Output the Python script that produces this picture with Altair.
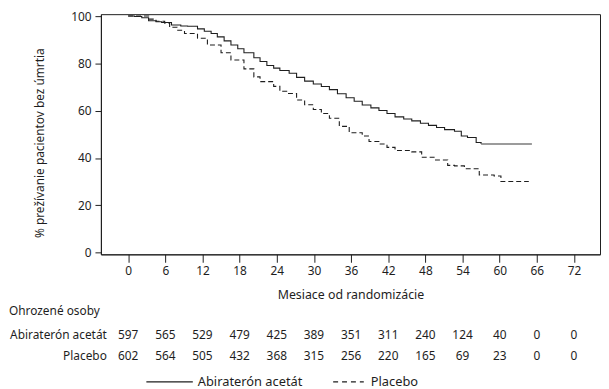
import altair as alt
import pandas as pd

# Kaplan-Meier curves
abi_months = [0, 1, 2.2, 3.3, 4.5, 5.4, 7, 8.5, 9.6, 11.2, 12.3, 13.4, 14.4, 15.5, 16.6,
              17.7, 18.7, 20.3, 21.3, 22.4, 23.5, 24.5, 26, 27.2, 28.5, 29.9, 31.2, 32.5,
              33.8, 35.2, 36.5, 37.8, 39.2, 40.5, 41.8, 43.1, 44.5, 45.8, 47.2, 48.5, 49.8,
              51.1, 52.7, 53.8, 54.8, 56.2, 57]
abi_surv = [100, 99.8, 99.3, 98, 97.6, 97.3, 96.2, 95.8, 95.7, 94.6, 93.6, 92.6, 91.2, 89.5,
            87.8, 86.2, 84.5, 82.4, 80.8, 79.1, 78, 77, 75.8, 74.1, 72.5, 71.3, 70.2, 68.9,
            67.2, 65.5, 64, 62.4, 61.2, 60.1, 58.8, 57.4, 56.5, 55.7, 54.7, 53.8, 52.9, 52,
            51.3, 49.3, 48.7, 46.6, 45.9]
abi_tail_months = [57, 65.2]
abi_tail_surv = [45.9, 45.9]

pla_months = [0, 2.2, 3.3, 4.5, 5.9, 6.7, 7.9, 9.1, 11.2, 12.8, 15, 16.6, 18.7, 20.3, 21.3,
              23.5, 24.5, 25.6, 27.2, 28.5, 29.9, 31.2, 32.5, 34.1, 35.7, 37.8, 38.9, 40.5,
              41.8, 43.1, 45.8, 47.4, 49.5, 51.6, 52.7, 54.3, 56.7, 59.1, 60.2, 64.7]
pla_surv = [100, 100, 98.7, 97.8, 97, 95.3, 94, 92.6, 90.6, 87.8, 84.5, 81.4, 77.7, 74.3,
            72.3, 70.3, 68.2, 67.3, 64.5, 62.5, 60.5, 58.8, 56.8, 53.4, 50.7, 49.3, 47,
            45.9, 44.5, 43.2, 42.6, 40.3, 39.2, 36.9, 36.7, 35.5, 32.8, 32.4, 30.1, 30.1]

groups = ["Abiraterón acetát", "Placebo"]
tick_months = [0, 6, 12, 18, 24, 30, 36, 42, 48, 54, 60, 66, 72]
y_ticks = [0, 20, 40, 60, 80, 100]
risk_abi = [597, 565, 529, 479, 425, 389, 351, 311, 240, 124, 40, 0, 0]
risk_pla = [602, 564, 505, 432, 368, 315, 256, 220, 165, 69, 23, 0, 0]
risk_title = "Ohrozené osoby"
x_title = "Mesiace od randomizácie"
y_title = "% prežívanie pacientov bez úmrtia"

curves = pd.concat([
    pd.DataFrame({"m": abi_months, "s": abi_surv, "g": groups[0]}),
    pd.DataFrame({"m": pla_months, "s": pla_surv, "g": groups[1]}),
])
tail = pd.DataFrame({"m": abi_tail_months, "s": abi_tail_surv})
risk_a = pd.DataFrame({"m": tick_months, "n": risk_abi})
risk_p = pd.DataFrame({"m": tick_months, "n": risk_pla})

INK = "#1e1e1e"
TOP = 4  # plot top offset inside the svg
xscale = alt.Scale(domain=[-4.4, 76.2], nice=False, zero=False)
yscale = alt.Scale(domain=[-0.7, 100.8], nice=False, zero=False)

xaxis = alt.Axis(values=tick_months, title=x_title, grid=False, tickSize=8,
                 labelPadding=3, titlePadding=13, labelFontSize=12, titleFontSize=12.5,
                 titleFontWeight="normal", domainColor=INK, tickColor=INK,
                 labelColor=INK, titleColor=INK)
yaxis = alt.Axis(values=y_ticks, title=y_title, grid=False, tickSize=6, labelPadding=4,
                 labelFontSize=12, titleFontSize=12, titleFontWeight="normal",
                 titleX=-62, titleY=134 - TOP, titleBaseline="middle", titleAngle=-90,
                 domainColor=INK, tickColor=INK, labelColor=INK, titleColor=INK)

lines = alt.Chart(curves).mark_line(interpolate="step-after", color=INK, strokeWidth=1.1).encode(
    x=alt.X("m:Q", scale=xscale, axis=xaxis),
    y=alt.Y("s:Q", scale=yscale, axis=yaxis),
    strokeDash=alt.StrokeDash("g:N", scale=alt.Scale(domain=groups, range=[[1, 0], [5, 3]]),
                              legend=None),
)

tail_line = alt.Chart(tail).mark_line(color="#7a7a7a", strokeWidth=1.6).encode(
    x=alt.X("m:Q", scale=xscale), y=alt.Y("s:Q", scale=yscale)
)

txt = dict(font="Noto Sans", fontSize=12, color=INK)
row_a = alt.Chart(risk_a).mark_text(**txt).encode(
    x=alt.X("m:Q", scale=xscale), y=alt.value(329 - TOP), text="n:Q")
row_p = alt.Chart(risk_p).mark_text(**txt).encode(
    x=alt.X("m:Q", scale=xscale), y=alt.value(350 - TOP), text="n:Q")

labels = pd.DataFrame({"t": [risk_title, groups[0], groups[1]],
                       "r": ["title", "a", "p"]})
lab_title = alt.Chart(labels[labels.r == "title"]).mark_text(align="left", **txt).encode(
    x=alt.value(-93), y=alt.value(304 - TOP), text="t:N")
lab_a = alt.Chart(labels[labels.r == "a"]).mark_text(align="right", **txt).encode(
    x=alt.value(6), y=alt.value(329 - TOP), text="t:N")
lab_p = alt.Chart(labels[labels.r == "p"]).mark_text(align="right", **txt).encode(
    x=alt.value(6), y=alt.value(350 - TOP), text="t:N")

leg = pd.DataFrame({"t": groups})
leg_txt = dict(font="Noto Sans", fontSize=13, color=INK, align="left")
LY = 376 - TOP
leg_rule_a = alt.Chart(leg[leg.t == groups[0]]).mark_rule(color=INK, strokeWidth=1.1).encode(
    x=alt.value(46), x2=alt.value(93), y=alt.value(LY))
leg_rule_p = alt.Chart(leg[leg.t == groups[1]]).mark_rule(color=INK, strokeWidth=1.1,
                                                            strokeDash=[5, 4]).encode(
    x=alt.value(235), x2=alt.value(266), y=alt.value(LY))
leg_text_a = alt.Chart(leg[leg.t == groups[0]]).mark_text(**leg_txt).encode(
    x=alt.value(98), y=alt.value(LY), text="t:N")
leg_text_p = alt.Chart(leg[leg.t == groups[1]]).mark_text(**leg_txt).encode(
    x=alt.value(273), y=alt.value(LY), text="t:N")

chart = alt.layer(
    lines, tail_line, row_a, row_p, lab_title, lab_a, lab_p,
    leg_rule_a, leg_rule_p, leg_text_a, leg_text_p,
).properties(
    width=505, height=247 - TOP,
    autosize=alt.AutoSizeParams(type="none"),
    padding={"left": 94, "top": TOP, "right": 1, "bottom": 134},
).configure(font="Noto Sans").configure_view(stroke=INK, strokeWidth=1)

chart.save("out.html", embed_options={"renderer": "svg", "actions": False})
